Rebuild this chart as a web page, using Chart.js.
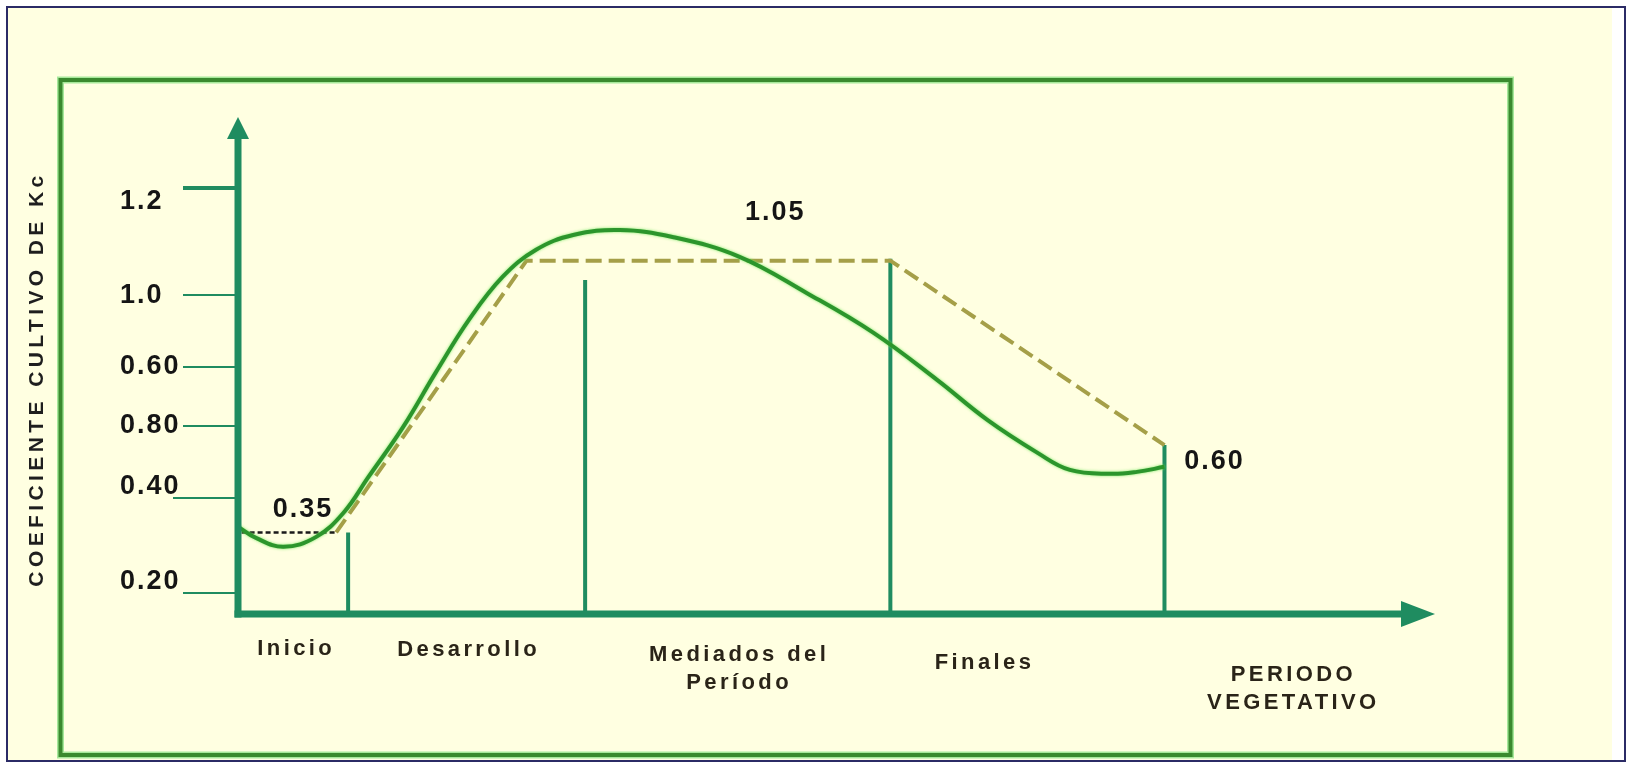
<!DOCTYPE html>
<html>
<head>
<meta charset="utf-8">
<title>Coeficiente de cultivo Kc</title>
<script src="https://cdn.jsdelivr.net/npm/chart.js@4"></script>
<style>
  html, body { margin: 0; padding: 0; background: #ffffff; }
  #wrap { width: 1633px; height: 764px; }
</style>
</head>
<body>
<div id="wrap"><canvas id="kc" width="1633" height="764"></canvas></div>
<script>
// x is the growing period in % of the axis, y is Kc
const curveX  = [0, 1.5, 3.8, 6.5, 8.8, 10.9, 13.8, 16.5, 19.3, 22.1, 24.9, 28.0, 31.9, 36.3, 41.9, 47.5, 53.1, 58.4, 62.6, 66.8, 69.5, 72.9, 75.1, 77.4];
const curveKc = [0.365, 0.336, 0.313, 0.338, 0.400, 0.493, 0.622, 0.761, 0.898, 1.008, 1.078, 1.116, 1.129, 1.111, 1.060, 0.967, 0.864, 0.743, 0.640, 0.555, 0.511, 0.501, 0.506, 0.519];

// stage Kc values (dashed line) and the flat initial value (dotted)
const kcX = [8.2, 24.1, 54.5, 77.4];
const kcY = [0.35, 1.05, 1.05, 0.575];
const iniX = [0.3, 8.2];
const iniY = [0.35, 0.35];

// stage boundaries
const stageX = [9.2, 29.0, 54.5, 77.4];
const stageTop = [0.35, 1.0, 1.055, 0.575];
const stageNames = [['Inicio'], ['Desarrollo'], ['Mediados del', 'Período'], ['Finales'], ['PERIODO', 'VEGETATIVO']];
const stageNameX = [4.7, 19.1, 41.7, 62.2, 88.0];

// y axis ticks as printed on the figure (labels are not in order)
const tickValues = [1.237, 0.962, 0.776, 0.624, 0.439, 0.194];
const tickLabels = ['1.2', '1.0', '0.60', '0.80', '0.40', '0.20'];

// value annotations
const noteText = ['0.35', '1.05', '0.60'];
const noteX = [5.35, 44.8, 81.5];
const noteY = [0.408, 1.173, 0.532];

const yTitle = 'COEFICIENTE CULTIVO DE Kc';

const AXIS = '#1f8c60';
const FONT = '"Liberation Sans", Arial, sans-serif';

const pts = (xs, ys) => xs.map((x, i) => ({ x: x, y: ys[i] }));

const datasets = [
    {
        label: 'Kc',
        data: pts(curveX, curveKc),
        borderColor: '#2c952c',
        borderWidth: 4,
        tension: 0.4,
        pointRadius: 0
    },
    {
        label: 'Kc etapas',
        data: pts(kcX, kcY),
        borderColor: '#a59f48',
        borderWidth: 4,
        borderDash: [16, 7],
        tension: 0,
        pointRadius: 0
    },
    {
        label: 'Kc inicial',
        data: pts(iniX, iniY),
        borderColor: '#1a1a1a',
        borderWidth: 2.5,
        borderDash: [5, 3],
        pointRadius: 0
    }
];

stageX.forEach((x, i) => {
    datasets.push({
        label: 'etapa ' + (i + 1),
        data: [{ x: x, y: stageTop[i] }, { x: x, y: 0.14 }],
        borderColor: AXIS,
        borderWidth: 4,
        pointRadius: 0
    });
});

const decor = {
    id: 'decor',
    beforeDraw(chart) {
        const c = chart.ctx;
        c.save();
        c.fillStyle = '#ffffff';
        c.fillRect(0, 0, chart.width, chart.height);
        c.fillStyle = '#ffffe1';
        c.fillRect(8, 8, 1604, 752);
        c.strokeStyle = '#2b2b66';
        c.lineWidth = 2;
        c.strokeRect(7, 7, 1618, 754);
        // green frame with a soft halo
        c.strokeStyle = '#a6e89a';
        c.lineWidth = 7;
        c.strokeRect(60.5, 80, 1450, 675);
        c.strokeStyle = '#3a8a2e';
        c.lineWidth = 4;
        c.strokeRect(60.5, 80, 1450, 675);
        c.restore();
    },
    beforeDatasetDraw(chart, args) {
        if (args.index === 0) {
            chart.ctx.save();
            chart.ctx.shadowColor = 'rgba(110, 230, 90, 0.9)';
            chart.ctx.shadowBlur = 3;
        }
    },
    afterDatasetDraw(chart, args) {
        if (args.index === 0) chart.ctx.restore();
    },
    afterDatasetsDraw(chart) {
        const c = chart.ctx;
        const a = chart.chartArea;
        const ys = chart.scales.y;
        c.save();
        c.strokeStyle = AXIS;
        c.fillStyle = AXIS;
        // y axis with arrow
        c.lineWidth = 7;
        c.beginPath();
        c.moveTo(a.left, a.bottom + 3.5);
        c.lineTo(a.left, a.top + 18);
        c.stroke();
        c.beginPath();
        c.moveTo(a.left, a.top);
        c.lineTo(a.left - 11, a.top + 22);
        c.lineTo(a.left + 11, a.top + 22);
        c.closePath();
        c.fill();
        // x axis with arrow
        c.beginPath();
        c.moveTo(a.left - 3.5, a.bottom);
        c.lineTo(a.right - 30, a.bottom);
        c.stroke();
        c.beginPath();
        c.moveTo(a.right, a.bottom);
        c.lineTo(a.right - 34, a.bottom - 13);
        c.lineTo(a.right - 34, a.bottom + 13);
        c.closePath();
        c.fill();
        // tick marks and their labels
        const tickLen = [55, 55, 55, 55, 65, 55];
        const tickW = [4, 2, 2, 2, 2, 2];
        const labelDy = [14, 1, 0, 0, -11, -11];
        c.font = 'bold 27px ' + FONT;
        c.letterSpacing = '2px';
        c.textBaseline = 'middle';
        c.textAlign = 'left';
        tickValues.forEach((v, i) => {
            const y = Math.round(ys.getPixelForValue(v));
            c.strokeStyle = AXIS;
            c.lineWidth = tickW[i];
            c.beginPath();
            c.moveTo(a.left - tickLen[i], y);
            c.lineTo(a.left, y);
            c.stroke();
            c.fillStyle = '#151515';
            c.fillText(tickLabels[i], 120, y + labelDy[i]);
        });
        c.restore();
    },
    afterDraw(chart) {
        const c = chart.ctx;
        const a = chart.chartArea;
        const xs = chart.scales.x;
        const ys = chart.scales.y;
        c.save();
        c.textAlign = 'center';
        c.textBaseline = 'middle';

        // Kc values along the curve
        c.font = 'bold 27px ' + FONT;
        c.letterSpacing = '2px';
        c.fillStyle = '#151515';
        noteText.forEach((t, i) => {
            c.fillText(t, xs.getPixelForValue(noteX[i]) + 1, ys.getPixelForValue(noteY[i]));
        });

        // stage names under the x axis
        const firstDy = [35, 36, 41, 49, 61];
        c.font = 'bold 22px ' + FONT;
        c.letterSpacing = '3.4px';
        c.fillStyle = '#2a2418';
        stageNames.forEach((lines, i) => {
            const x = xs.getPixelForValue(stageNameX[i]) + 2;
            lines.forEach((line, j) => {
                c.fillText(line, x, a.bottom + firstDy[i] + j * 28);
            });
        });

        // rotated y title
        c.translate(37, 381);
        c.rotate(-Math.PI / 2);
        c.font = 'bold 21px ' + FONT;
        c.letterSpacing = '4.4px';
        c.fillStyle = '#1e1e1e';
        c.fillText(yTitle, 2, 0);
        c.restore();
    }
};

new Chart(document.getElementById('kc'), {
    type: 'line',
    data: { datasets: datasets },
    options: {
        responsive: false,
        animation: false,
        devicePixelRatio: 1,
        layout: { padding: { left: 238, right: 198, top: 117, bottom: 150 } },
        scales: {
            x: { type: 'linear', min: 0, max: 100, display: false },
            y: { type: 'linear', min: 0.14, max: 1.42, display: false }
        },
        plugins: {
            legend: { display: false },
            tooltip: { enabled: false }
        },
        elements: { line: { fill: false } }
    },
    plugins: [decor]
});
</script>
</body>
</html>
